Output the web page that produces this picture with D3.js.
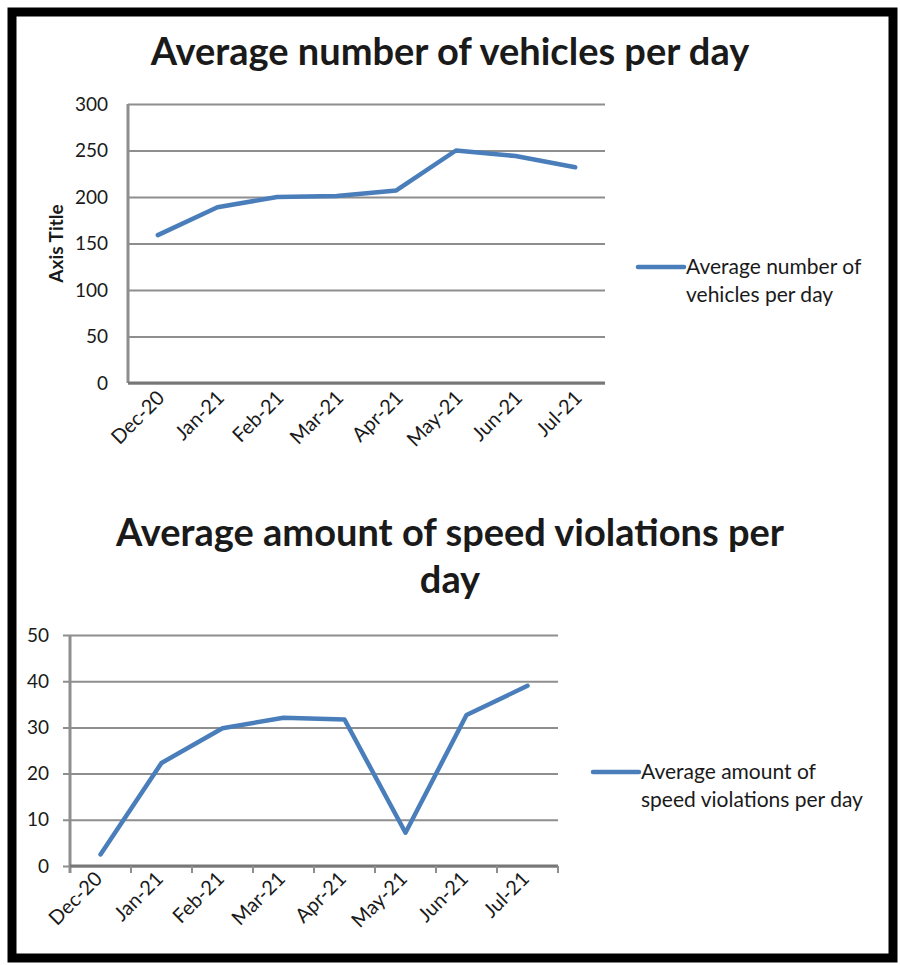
<!DOCTYPE html>
<html>
<head>
<meta charset="utf-8">
<script src="https://cdn.jsdelivr.net/npm/d3@7"></script>
<style>
  body { margin: 0; background: #fff; }
  text { font-family: Lato, "Open Sans", sans-serif; fill: #1a1a1a; }
</style>
</head>
<body>
<div id="chart"></div>
<script>
// Data
const months = ["Dec-20", "Jan-21", "Feb-21", "Mar-21", "Apr-21", "May-21", "Jun-21", "Jul-21"];
const vehicles = [159, 189, 200, 201, 207, 250, 244, 232];
const violations = [2.5, 22.3, 29.8, 32.1, 31.7, 7.2, 32.7, 39.0];
const vehicleTicks = [0, 50, 100, 150, 200, 250, 300];
const violationTicks = [0, 10, 20, 30, 40, 50];

const svgWidth = 900;
const svgHeight = 965;
const lineColor = "#4a7ebb";
const gridColor = "#8e8e8e";

let svg = d3.select("#chart")
    .append("svg")
    .attr("width", svgWidth)
    .attr("height", svgHeight);

// Outer black frame
svg.append("rect")
    .attr("x", 12).attr("y", 12)
    .attr("width", 881).attr("height", 946)
    .attr("fill", "#fff")
    .attr("stroke", "#000")
    .attr("stroke-width", 9);

// Draws one line chart
function drawChart(opt) {
    const width = opt.right - opt.left;
    const height = opt.bottom - opt.top;

    const g = svg.append("g")
        .attr("transform", `translate(${opt.left}, ${opt.top})`);

    const x = d3.scaleBand()
        .domain(months)
        .range([0, width])
        .padding(0);

    const y = d3.scaleLinear()
        .domain([0, d3.max(opt.ticks)])
        .range([height, 0]);

    // gridlines + y labels
    const yAxis = g.append("g")
        .call(d3.axisLeft(y)
            .tickValues(opt.ticks)
            .tickSize(-width - opt.yTick)
            .tickPadding(opt.yPad)
            .tickFormat(d3.format("d")))
        .attr("transform", `translate(${-opt.yTick}, 0)`);
    yAxis.select(".domain").remove();
    yAxis.selectAll("line")
        .attr("stroke", gridColor)
        .attr("stroke-width", 2);
    yAxis.selectAll("text")
        .attr("font-size", "19px")
        .attr("fill", "#1a1a1a");

    // left axis line
    g.append("line")
        .attr("x1", 0).attr("x2", 0)
        .attr("y1", 0).attr("y2", height + opt.xTick)
        .attr("stroke", gridColor)
        .attr("stroke-width", 3);

    // bottom axis with tick marks at band edges
    g.append("line")
        .attr("x1", 0).attr("x2", width)
        .attr("y1", height).attr("y2", height)
        .attr("stroke", "#777")
        .attr("stroke-width", 3);
    if (opt.xTick > 0) {
        g.selectAll(".xtick")
            .data(months)
            .enter()
            .append("line")
            .attr("x1", d => x(d) + x.bandwidth())
            .attr("x2", d => x(d) + x.bandwidth())
            .attr("y1", height)
            .attr("y2", height + opt.xTick)
            .attr("stroke", gridColor)
            .attr("stroke-width", 2);
    }

    // rotated month labels
    g.selectAll(".xlabel")
        .data(months)
        .enter()
        .append("text")
        .attr("text-anchor", "end")
        .attr("font-size", "20px")
        .attr("transform", d => `translate(${x(d) + x.bandwidth() / 2 + opt.labelDx}, ${height + opt.labelDy}) rotate(-45)`)
        .text(d => d);

    // the series line
    const line = d3.line()
        .x((d, i) => x(months[i]) + x.bandwidth() / 2)
        .y(d => y(d));

    g.append("path")
        .datum(opt.values)
        .attr("d", line)
        .attr("fill", "none")
        .attr("stroke", lineColor)
        .attr("stroke-width", 4.5)
        .attr("stroke-linejoin", "round")
        .attr("stroke-linecap", "round");

    // title
    const title = svg.append("text")
        .attr("text-anchor", "middle")
        .attr("font-size", "38px")
        .attr("font-weight", "bold")
        .attr("fill", "#000");
    opt.title.forEach((t, i) => {
        title.append("tspan")
            .attr("x", 450)
            .attr("y", opt.titleY + i * 47)
            .text(t);
    });

    // legend
    svg.append("line")
        .attr("x1", opt.legendX).attr("x2", opt.legendX + 46)
        .attr("y1", opt.legendY).attr("y2", opt.legendY)
        .attr("stroke", lineColor)
        .attr("stroke-width", 4.5)
        .attr("stroke-linecap", "round");
    const leg = svg.append("text")
        .attr("font-size", "21px");
    opt.legend.forEach((t, i) => {
        leg.append("tspan")
            .attr("x", opt.legendX + 48)
            .attr("y", opt.legendY + 7 + i * 28)
            .text(t);
    });

    return g;
}

const topChart = drawChart({
    left: 128, right: 605, top: 104, bottom: 383,
    ticks: vehicleTicks, values: vehicles,
    yTick: 0, yPad: 20, xTick: 0,
    labelDx: 8, labelDy: 16,
    title: ["Average number of vehicles per day"], titleY: 65,
    legend: ["Average number of", "vehicles per day"], legendX: 638, legendY: 267
});

// y axis title on the first chart
topChart.append("text")
    .attr("transform", "rotate(-90)")
    .attr("x", -(383 - 104) / 2)
    .attr("y", -65)
    .attr("text-anchor", "middle")
    .attr("font-size", "19px")
    .attr("font-weight", "bold")
    .text("Axis Title");

drawChart({
    left: 70, right: 558, top: 635, bottom: 866,
    ticks: violationTicks, values: violations,
    yTick: 7, yPad: 14, xTick: 7,
    labelDx: 3, labelDy: 14,
    title: ["Average amount of speed violations per", "day"], titleY: 546,
    legend: ["Average amount of", "speed violations per day"], legendX: 593, legendY: 772
});
</script>
</body>
</html>
